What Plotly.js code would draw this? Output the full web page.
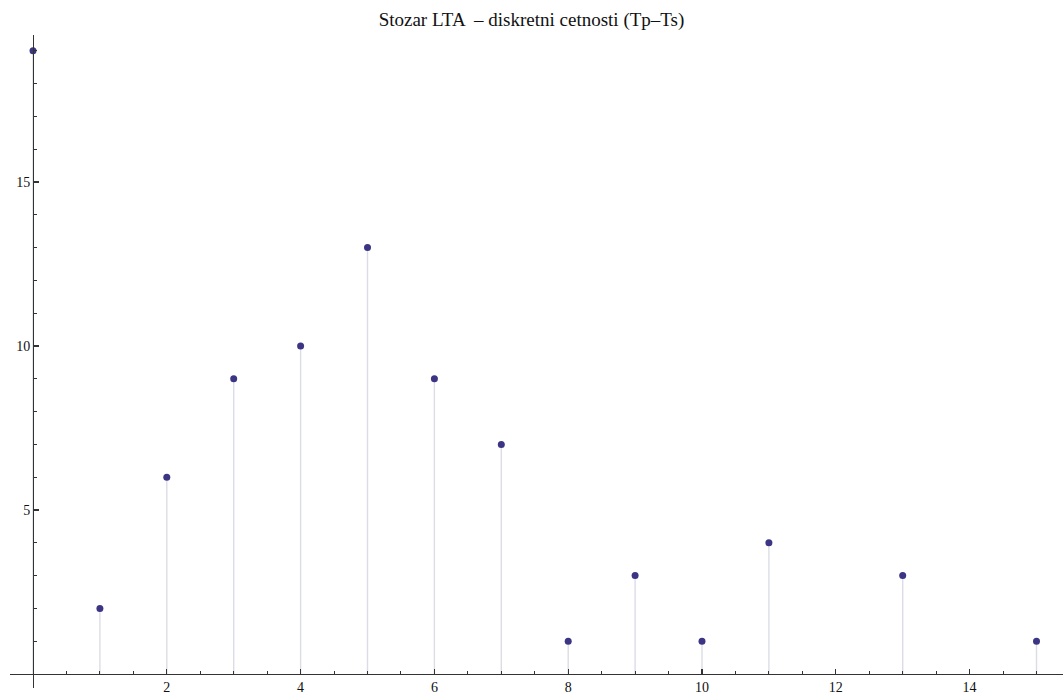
<!DOCTYPE html>
<html>
<head>
<meta charset="utf-8">
<script src="https://cdn.plot.ly/plotly-3.0.1.min.js"></script>
<style>html,body{margin:0;padding:0;background:#fff;}#chart{width:1063px;height:700px;}</style>
</head>
<body>
<div id="chart"></div>
<script>
const xValues = [0, 1, 2, 3, 4, 5, 6, 7, 8, 9, 10, 11, 13, 15];
const yValues = [19, 2, 6, 9, 10, 13, 9, 7, 1, 3, 1, 4, 3, 1];
const xTickVals = [2, 4, 6, 8, 10, 12, 14];
const yTickVals = [5, 10, 15];
const chartTitle = "Stozar LTA  \u2013 diskretni cetnosti (Tp\u2013Ts)";

const W = 1063, H = 700;
const pxPerX = 66.9, pxPerY = 32.8;
const x0px = 33, y0px = 674;
const xDomPx = [10, 1063];
const yDomPx = [35, 688]; // from top
const xRange = [(xDomPx[0] - x0px) / pxPerX, (xDomPx[1] - x0px) / pxPerX];
const yRange = [(y0px - yDomPx[1]) / pxPerY, (y0px - yDomPx[0]) / pxPerY];

const trace = {
  x: xValues,
  y: yValues,
  type: 'scatter',
  mode: 'markers',
  marker: {color: '#3b3584', size: 7},
  error_y: {
    type: 'data', symmetric: false,
    array: yValues.map(() => 0),
    arrayminus: yValues,
    width: 0, thickness: 1.4, color: '#dcdce6'
  },
  hoverinfo: 'x+y'
};

const font = {family: '"Liberation Serif", "Times New Roman", serif', color: '#111'};

const layout = {
  width: W, height: H,
  margin: {l: 0, r: 0, t: 0, b: 0},
  paper_bgcolor: '#fff', plot_bgcolor: 'rgba(0,0,0,0)',
  showlegend: false,
  title: {text: chartTitle, font: Object.assign({size: 19}, font), x: 0.5, xref: 'paper', xanchor: 'center', y: 1 - 19 / H, yref: 'container', yanchor: 'middle'},
  xaxis: {
    domain: [xDomPx[0] / W, xDomPx[1] / W],
    range: xRange,
    anchor: 'free', position: (H - y0px) / H,
    showgrid: false, zeroline: false,
    showline: true, linecolor: '#333', linewidth: 1.2,
    tickmode: 'array', tickvals: xTickVals,
    ticks: 'inside', ticklen: 5, tickcolor: '#333', tickwidth: 1.2,
    minor: {dtick: 0.5, tick0: 0, ticks: 'inside', ticklen: 3, tickcolor: '#333', tickwidth: 1, showgrid: false},
    tickfont: Object.assign({size: 14}, font),
    fixedrange: true
  },
  yaxis: {
    domain: [(H - yDomPx[1]) / H, (H - yDomPx[0]) / H],
    range: yRange,
    anchor: 'free', position: x0px / W,
    showgrid: false, zeroline: false,
    showline: true, linecolor: '#333', linewidth: 1.2,
    tickmode: 'array', tickvals: yTickVals,
    ticks: 'inside', ticklen: 5, tickcolor: '#333', tickwidth: 1.2,
    minor: {dtick: 1, tick0: 0, ticks: 'inside', ticklen: 3, tickcolor: '#333', tickwidth: 1, showgrid: false},
    tickfont: Object.assign({size: 14}, font),
    fixedrange: true
  }
};

Plotly.newPlot('chart', [trace], layout, {displayModeBar: false, staticPlot: true});
</script>
</body>
</html>
